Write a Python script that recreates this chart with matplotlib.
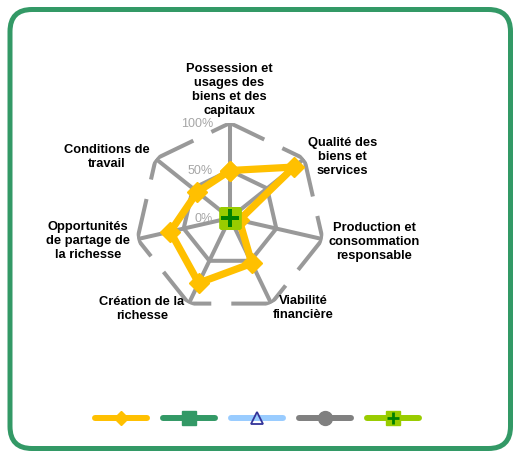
import numpy as np
import matplotlib
matplotlib.use("Agg")
import matplotlib.pyplot as plt
from matplotlib.lines import Line2D
from matplotlib.patches import FancyBboxPatch
from matplotlib.legend_handler import HandlerTuple

plt.rcParams['font.family'] = ['Liberation Sans', 'DejaVu Sans']

# ---------------- data ----------------
categories = [
    "Possession et\nusages des\nbiens et des\ncapitaux",
    "Qualité des\nbiens et\nservices",
    "Production et\nconsommation\nresponsable",
    "Viabilité\nfinancière",
    "Création de la\nrichesse",
    "Opportunités\nde partage de\nla richesse",
    "Conditions de\ntravail",
]
series_yellow = [0.50, 0.86, 0.10, 0.53, 0.76, 0.645, 0.44]
series_green = [0, 0, 0, 0, 0, 0, 0]
series_blue = [0, 0, 0, 0, 0, 0, 0]
series_gray = [0, 0, 0, 0, 0, 0, 0]
series_lime = [0, 0, 0, 0, 0, 0, 0]
radial_ticks = [0.0, 0.5, 1.0]
radial_tick_labels = ["0%", "50%", "100%"]

# ---------------- layout ----------------
label_theta_deg = [90.4, 29.0, -9.1, -50.6, -134.4, -171.2, 153.2]
label_r = [1.36, 1.35, 1.535, 1.21, 1.325, 1.51, 1.45]

W, H = 513, 452
cx, cy, R = 230, 219, 95

fig = plt.figure(figsize=(W / 100, H / 100), dpi=100)

bg = fig.add_axes([0, 0, 1, 1])
bg.set_xlim(0, W)
bg.set_ylim(0, H)
bg.axis('off')
frame = FancyBboxPatch((10, 2.5), 500.5, 439, boxstyle='round,pad=0,rounding_size=22',
                       fc='white', ec='#339966', lw=3.6)
bg.add_patch(frame)

ax = fig.add_axes([(cx - R) / W, (H - cy - R) / H, 2 * R / W, 2 * R / H], projection='polar')
ax.set_ylim(0, 1)
ax.axis('off')

n = len(categories)
theta = np.pi / 2 - 2 * np.pi * np.arange(n) / n
theta_c = np.append(theta, theta[0])

grid_c = '#999999'
grid_lw = 2.9
for t in theta:
    ax.plot([t, t], [0, 1], color=grid_c, lw=grid_lw, solid_capstyle='butt', zorder=1)
ax.plot(theta_c, [0.5] * (n + 1), color=grid_c, lw=grid_lw, solid_joinstyle='miter', zorder=1)
ax.plot(theta_c, [1.0] * (n + 1), color=grid_c, lw=grid_lw,
        linestyle=(6.2, (15.65, 4.97)), dash_joinstyle='miter', dash_capstyle='butt', zorder=1)

def closed(v):
    return list(v) + [v[0]]

ax.plot(theta_c, closed(series_yellow), color='#FFC000', lw=5.2, marker='D', ms=10,
        mfc='#FFC000', mec='#FFC000', solid_joinstyle='round', zorder=3)
ax.plot(theta_c, closed(series_green), color='#339966', lw=5, marker='s', ms=10,
        mfc='#339966', mec='#339966', zorder=4)
ax.plot(theta_c, closed(series_blue), color='#99CCFF', lw=5, marker='^', ms=9,
        mfc='none', mec='#333399', mew=1.3, zorder=5)
ax.plot(theta_c, closed(series_gray), color='#808080', lw=5, marker='o', ms=10,
        mfc='#808080', mec='#808080', zorder=6)
ax.plot(theta_c, closed(series_lime), color='#99CC00', lw=5, marker='s', ms=15,
        mfc='#99CC00', mec='#99CC00', zorder=7)
ax.plot(theta_c, closed(series_lime), lw=0, marker='+', ms=12.5, mew=2.6,
        mec='#008000', zorder=8)

for r, lab in zip(radial_ticks, radial_tick_labels):
    ax.annotate(lab, xy=(np.pi / 2, r), xytext=(-17, 0), textcoords='offset pixels',
                ha='right', va='center', color='#A6A6A6', fontsize=9, zorder=2)

for cat, td, rr in zip(categories, label_theta_deg, label_r):
    ax.text(np.deg2rad(td), rr, cat, ha='center', va='center', fontsize=9.3,
            fontweight='bold', color='black', linespacing=1.22, clip_on=False)

# ---------------- legend ----------------
lw_leg = 4.3
h_yellow = Line2D([], [], color='#FFC000', lw=lw_leg, marker='D', ms=7.5,
                  mfc='#FFC000', mec='#FFC000', solid_capstyle='round')
h_green = Line2D([], [], color='#339966', lw=lw_leg, marker='s', ms=10,
                 mfc='#339966', mec='#339966', solid_capstyle='round')
h_blue = Line2D([], [], color='#99CCFF', lw=lw_leg, marker='^', ms=9,
                mfc='none', mec='#333399', mew=1.3, solid_capstyle='round')
h_gray = Line2D([], [], color='#808080', lw=lw_leg, marker='o', ms=10,
                mfc='#808080', mec='#808080', solid_capstyle='round')
h_lime_sq = Line2D([], [], color='#99CC00', lw=lw_leg, marker='s', ms=10,
                   mfc='#99CC00', mec='#99CC00', solid_capstyle='round')
h_lime_plus = Line2D([], [], lw=0, marker='+', ms=9, mew=2, mec='#008000')

bg.legend([h_yellow, h_green, h_blue, h_gray, (h_lime_sq, h_lime_plus)], [''] * 5,
          loc='center', bbox_to_anchor=(257, H - 420), bbox_transform=bg.transData,
          ncol=5, frameon=False, handlelength=3.74, handletextpad=0, columnspacing=1.15,
          fontsize=10, numpoints=1, handler_map={tuple: HandlerTuple(ndivide=1)})

fig.savefig('out.png', dpi=100)
